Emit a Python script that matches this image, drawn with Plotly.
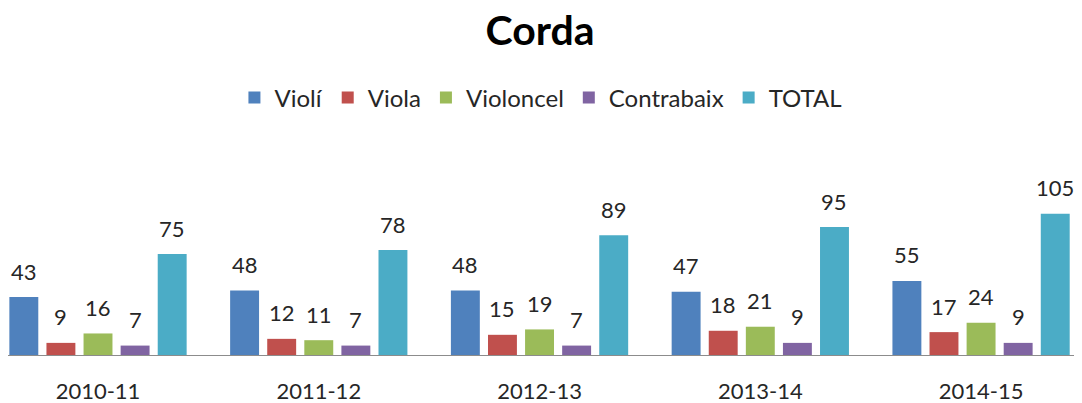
import plotly.graph_objects as go

# Dades del gràfic
CURSOS = ["2010-11", "2011-12", "2012-13", "2013-14", "2014-15"]
VIOLI = [43, 48, 48, 47, 55]
VIOLA = [9, 12, 15, 18, 17]
VIOLONCEL = [16, 11, 19, 21, 24]
CONTRABAIX = [7, 7, 7, 9, 9]
TOTAL = [75, 78, 89, 95, 105]

SERIES = [
    ("Violí", VIOLI, "#4F81BD"),
    ("Viola", VIOLA, "#C0504D"),
    ("Violoncel", VIOLONCEL, "#9BBB59"),
    ("Contrabaix", CONTRABAIX, "#8064A2"),
    ("TOTAL", TOTAL, "#4BACC6"),
]

FONT = "Lato, Carlito, 'Liberation Sans', sans-serif"
TEXT_COLOR = "#262626"

# geometria (la pàgina desplaça la figura 8 px per el marge del body)
W, H = 1082, 403
MARGE = dict(l=0, r=14, t=172, b=56, autoexpand=False)
X_RANG = [-0.4077, 4.43]
BARGAP = 0.16
BARGROUPGAP = 0.22

amplada_plot = W - MARGE["l"] - MARGE["r"]
px_per_cat = amplada_plot / (X_RANG[1] - X_RANG[0])
slot = px_per_cat * (1 - BARGAP) / len(SERIES)

fig = go.Figure()

for k, (nom, valors, color) in enumerate(SERIES):
    fig.add_trace(go.Bar(
        x=CURSOS,
        y=valors,
        name=nom,
        marker=dict(color=color, line=dict(width=0)),
        hoverinfo="x+y+name",
    ))
    # etiquetes de valor sobre cada barra
    desplac = (k - (len(SERIES) - 1) / 2) * slot
    for curs, v in zip(CURSOS, valors):
        fig.add_annotation(
            x=curs, y=v,
            text=str(v),
            showarrow=False,
            xshift=desplac,
            yshift=26,
            yanchor="middle",
            font=dict(family=FONT, size=22, color=TEXT_COLOR),
        )

fig.update_layout(
    width=W,
    height=H,
    paper_bgcolor="white",
    plot_bgcolor="white",
    barmode="group",
    bargap=BARGAP,
    bargroupgap=BARGROUPGAP,
    margin=MARGE,
    title=dict(
        text="<b>Corda</b>",
        font=dict(family=FONT, size=41, color="black"),
        x=532 / W, xanchor="center",
        y=1 - 23 / H, yanchor="middle",
    ),
    legend=dict(
        orientation="h",
        x=0.499, xanchor="center",
        yref="container",
        y=1 - 90 / H, yanchor="middle",
        font=dict(family=FONT, size=24, color=TEXT_COLOR),
        itemwidth=30,
        traceorder="normal",
    ),
    showlegend=True,
    xaxis=dict(
        type="category",
        range=X_RANG,
        showgrid=False,
        zeroline=False,
        showline=True,
        linecolor="#8C8C8C",
        linewidth=1,
        ticks="outside",
        ticklen=17,
        tickcolor="rgba(0,0,0,0)",
        tickfont=dict(family=FONT, size=22, color=TEXT_COLOR),
    ),
    yaxis=dict(
        range=[0, 130],
        showgrid=False,
        zeroline=False,
        showticklabels=False,
        showline=False,
        ticks="",
    ),
)

fig.write_html("out.html")
